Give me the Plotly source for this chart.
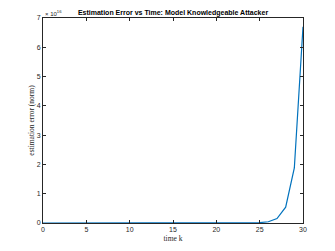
import plotly.graph_objects as go

k = list(range(0, 31))
err = [0, 0, 0, 0, 0, 0, 0, 0, 0, 0,
       0, 0, 0, 0, 0, 0, 0, 0, 0, 0,
       0.00002e16, 0.00007e16, 0.0003e16, 0.001e16, 0.0035e16, 0.012e16,
       0.043e16, 0.15e16, 0.54e16, 1.88e16, 6.7e16]
ytick_vals = [0, 1e16, 2e16, 3e16, 4e16, 5e16, 6e16, 7e16]
ytick_text = ["0", "1", "2", "3", "4", "5", "6", "7"]
xtick_vals = [0, 5, 10, 15, 20, 25, 30]

fig = go.Figure()
fig.add_trace(go.Scatter(x=k, y=err, mode="lines",
                         line=dict(color="#0072BD", width=1.2)))

axis_common = dict(showgrid=False, zeroline=False, showline=True, linecolor="#262626",
                   linewidth=1, mirror="ticks", ticks="inside", ticklen=3,
                   tickcolor="#262626", tickfont=dict(family="Liberation Sans, Arial", size=7, color="#262626"))

fig.update_layout(
    width=335, height=251, autosize=False,
    margin=dict(l=43, r=32, t=18, b=28, autoexpand=False),
    paper_bgcolor="white", plot_bgcolor="white",
    showlegend=False,
    title=dict(text="<b>Estimation Error vs Time: Model Knowledgeable Attacker</b>",
               x=173 / 335, xanchor="center", y=1 - 13 / 251, yanchor="middle",
               font=dict(family="Liberation Sans, Arial", size=7, color="black")),
    xaxis=dict(range=[0, 30], tickvals=xtick_vals,
               title=dict(text="time k", font=dict(family="Liberation Serif, Times New Roman", size=7.5, color="#262626"), standoff=3),
               **axis_common),
    yaxis=dict(range=[0, 7e16], tickvals=ytick_vals, ticktext=ytick_text,
               title=dict(text="estimation error (norm)", font=dict(family="Liberation Serif, Times New Roman", size=7.5, color="#262626"), standoff=1),
               **axis_common),
)
fig.add_annotation(text="× 10<sup>16</sup>", xref="paper", yref="paper", x=0, y=1,
                   xanchor="left", yanchor="bottom", showarrow=False,
                   font=dict(family="Liberation Sans, Arial", size=6, color="#262626"), yshift=-1)
fig.write_html("out.html", config={"displayModeBar": False, "staticPlot": True},
               post_script="document.body.style.margin='0';document.body.style.overflow='hidden';")
